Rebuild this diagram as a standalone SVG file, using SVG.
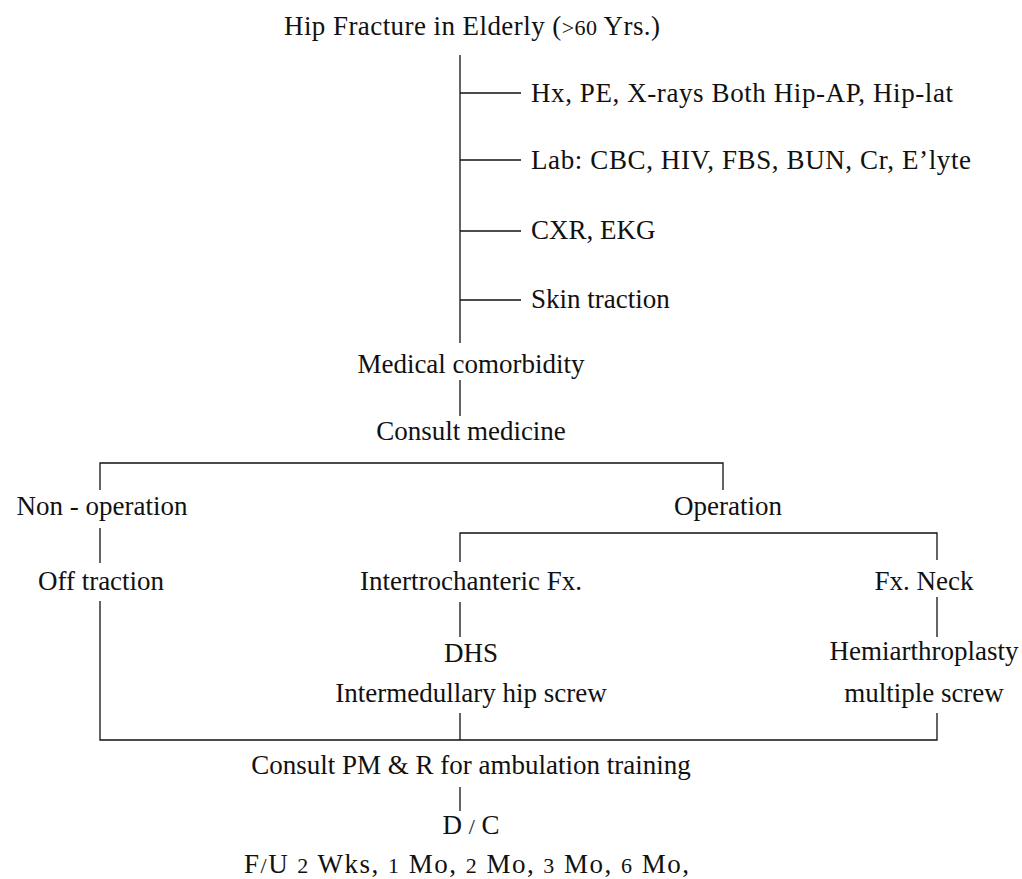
<svg xmlns="http://www.w3.org/2000/svg" width="1022" height="879" viewBox="0 0 1022 879">
<style>
text{font-family:"Liberation Serif","Times New Roman",serif;font-size:27px;fill:#111}
.m{text-anchor:middle}
.s{font-size:22px}
.c line,.c polyline{stroke:#111;stroke-width:1.3;fill:none}
</style>
<rect width="1022" height="879" fill="#fff"/>
<g class="c" id="connectors">
<line x1="460" y1="55" x2="460" y2="343"/>
<line x1="460" y1="93" x2="521" y2="93"/>
<line x1="460" y1="160" x2="521" y2="160"/>
<line x1="460" y1="231" x2="521" y2="231"/>
<line x1="460" y1="300" x2="521" y2="300"/>
<line x1="460" y1="380" x2="460" y2="416"/>
<polyline points="100,490 100,463 723,463 723,490"/>
<line x1="100" y1="528" x2="100" y2="563"/>
<polyline points="460,562 460,533 937,533 937,560"/>
<line x1="460" y1="602" x2="460" y2="637"/>
<line x1="937" y1="597" x2="937" y2="637"/>
<polyline points="100,601 100,740 937,740 937,713"/>
<line x1="460" y1="713" x2="460" y2="740"/>
<line x1="460" y1="787" x2="460" y2="811"/>
</g>
<g id="n-title"><text x="284" y="35" textLength="376" lengthAdjust="spacing">Hip Fracture in Elderly (<tspan class="s">&gt;60</tspan> Yrs.)</text></g>
<g id="n-hx"><text x="531" y="102" textLength="422" lengthAdjust="spacing">Hx, PE, X-rays Both Hip-AP, Hip-lat</text></g>
<g id="n-lab"><text x="531" y="169" textLength="440" lengthAdjust="spacing">Lab: CBC, HIV, FBS, BUN, Cr, E’lyte</text></g>
<g id="n-cxr"><text x="531" y="239">CXR, EKG</text></g>
<g id="n-skin"><text x="531" y="308">Skin traction</text></g>
<g id="n-medical"><text class="m" x="471" y="373">Medical comorbidity</text></g>
<g id="n-consult"><text class="m" x="471" y="440">Consult medicine</text></g>
<g id="n-nonop"><text class="m" x="102" y="515">Non - operation</text></g>
<g id="n-op"><text class="m" x="728" y="515">Operation</text></g>
<g id="n-off"><text class="m" x="101" y="590">Off traction</text></g>
<g id="n-inter"><text class="m" x="471" y="590">Intertrochanteric Fx.</text></g>
<g id="n-neck"><text class="m" x="924" y="590">Fx. Neck</text></g>
<g id="n-dhs"><text class="m" x="471" y="662">DHS</text><text class="m" x="471" y="702">Intermedullary hip screw</text></g>
<g id="n-hemi"><text class="m" x="924" y="660">Hemiarthroplasty</text><text class="m" x="924" y="702">multiple screw</text></g>
<g id="n-pmr"><text class="m" x="471" y="774">Consult PM &amp; R for ambulation training</text></g>
<g id="n-dc"><text class="m" x="471" y="834">D <tspan class="s">/</tspan> C</text></g>
<g id="n-fu"><text x="244" y="873" textLength="445" lengthAdjust="spacing">F<tspan class="s">/</tspan>U <tspan class="s">2</tspan> Wks, <tspan class="s">1</tspan> Mo, <tspan class="s">2</tspan> Mo, <tspan class="s">3</tspan> Mo, <tspan class="s">6</tspan> Mo,</text></g>
</svg>
